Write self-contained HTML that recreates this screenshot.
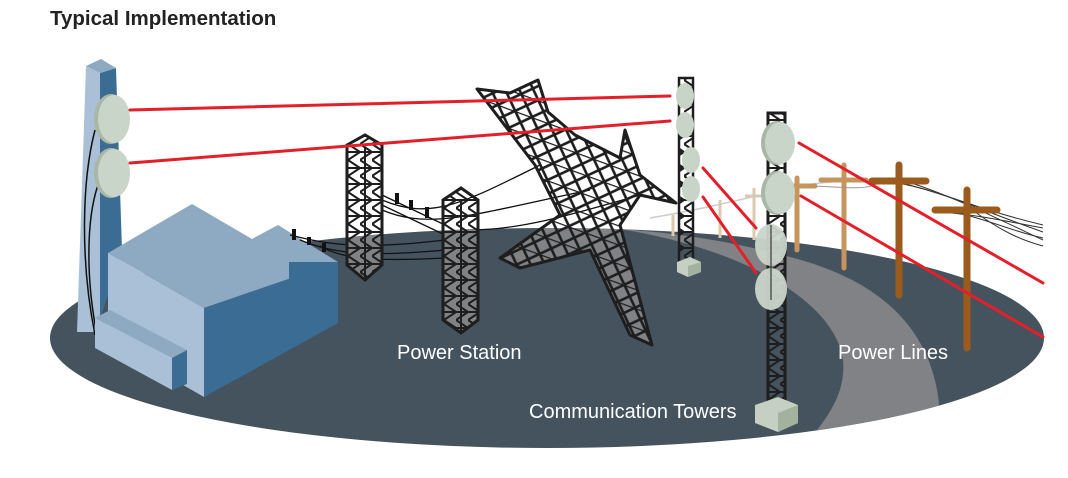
<!DOCTYPE html>
<html><head><meta charset="utf-8"><style>
html,body{margin:0;padding:0;background:#fff;}
svg{display:block;}
text{font-family:"Liberation Sans",sans-serif;}
</style></head><body>
<svg width="1068" height="478" viewBox="0 0 1068 478" xmlns="http://www.w3.org/2000/svg">
<defs>
<pattern id="lat" width="18" height="18" patternUnits="userSpaceOnUse" patternTransform="rotate(20)">
<path d="M0,0 L18,18 M18,0 L0,18 M0,0 H18" stroke="#1e1e1e" stroke-width="2.6" fill="none"/>
</pattern>
<pattern id="lat2" width="12" height="16" patternUnits="userSpaceOnUse">
<path d="M0,0 L12,8 L0,16 M0,8 H12" stroke="#1e1e1e" stroke-width="2" fill="none"/>
</pattern>
<clipPath id="ell"><ellipse cx="547" cy="338" rx="497" ry="110"/></clipPath>
</defs>

<text x="50" y="25" font-size="20.5" font-weight="bold" fill="#222">Typical Implementation</text>

<!-- ground -->
<ellipse cx="547" cy="338" rx="497" ry="110" fill="#45535e"/>
<path clip-path="url(#ell)" d="M620,229 C740,248 835,300 843,360 C846,390 830,415 812,436 L940,420 C938,330 880,280 790,257 C740,244 690,234 620,229 Z" fill="#808285"/>

<!-- far light poles & wires -->
<g stroke="#dcc9ae" stroke-width="3">
<line x1="673" y1="215" x2="673" y2="236"/><line x1="720" y1="200" x2="720" y2="238"/><line x1="754" y1="188" x2="754" y2="240"/>
<line x1="745" y1="196" x2="765" y2="196"/>
</g>
<path d="M650,218 C700,210 760,195 800,186 C830,180 860,182 880,178" stroke="#ccc" stroke-width="1.5" fill="none"/>
<g stroke="#c4955c" stroke-width="5" stroke-linecap="round">
<line x1="797" y1="178" x2="797" y2="250"/><line x1="785" y1="186" x2="815" y2="186"/>
<line x1="844" y1="165" x2="844" y2="268"/><line x1="821" y1="180" x2="866" y2="180"/>
</g>
<g stroke="#333" stroke-width="1" fill="none">
<path d="M880,181 C930,185 960,205 1043,225"/><path d="M890,181 C940,190 980,210 1043,232"/><path d="M905,181 C950,195 990,215 1043,240"/>
<path d="M940,212 C980,215 1010,222 1043,228"/><path d="M955,212 C995,222 1015,232 1043,238"/><path d="M975,212 C1000,230 1020,240 1043,246"/>
<path d="M815,186 C850,188 870,190 880,182" stroke="#999"/>
</g>
<g stroke="#9a5b1c" stroke-width="7" stroke-linecap="round">
<line x1="899" y1="165" x2="899" y2="295"/><line x1="872" y1="181" x2="926" y2="181"/>
<line x1="967" y1="190" x2="967" y2="348"/><line x1="935" y1="210" x2="997" y2="210"/>
</g>

<!-- building -->
<polygon points="86,66 100,73 100,332 77,332" fill="#a9c0d6"/>
<polygon points="100,73 116,68 122,250 100,320" fill="#3b6d94"/>
<polygon points="86,66 101,59 116,68 100,73" fill="#8ea9c2"/>
<path d="M95,130 C82,180 80,260 95,335 M98,185 C86,220 86,280 97,335" stroke="#111" stroke-width="1.5" fill="none"/>
<polygon points="108,253 192,204 252,239 278,225 338,262 204,308" fill="#8ea9c2"/>
<polygon points="289,262 338,262 289,288" fill="#3b6d94"/>
<polygon points="108,253 204,308 204,397 108,342" fill="#a9c0d6"/>
<polygon points="204,308 338,262 338,323 204,397" fill="#3b6d94"/>
<polygon points="95,318 110,310 187,350 172,358" fill="#8ea9c2"/>
<polygon points="95,318 172,358 172,390 95,348" fill="#a9c0d6"/>
<polygon points="172,358 187,350 187,384 172,390" fill="#3b6d94"/>
<ellipse cx="111" cy="119" rx="17" ry="25" fill="#a8b8a5"/><ellipse cx="114" cy="119" rx="16" ry="24" fill="#cad5c9"/>
<ellipse cx="111" cy="173" rx="17" ry="25" fill="#a8b8a5"/><ellipse cx="114" cy="173" rx="16" ry="24" fill="#cad5c9"/>

<!-- power station wires -->
<g stroke="#111" stroke-width="1.3" fill="none">
<path d="M290,235 C330,245 360,250 445,240"/><path d="M300,240 C330,252 360,258 445,250"/><path d="M320,246 C340,258 370,262 445,258"/>
<path d="M382,200 C430,220 460,205 540,165"/><path d="M382,210 C430,230 470,215 590,190"/><path d="M470,230 C520,230 570,215 640,195"/>
<path d="M382,195 L445,225 M382,205 L445,235"/>
</g>
<g stroke="#111" stroke-width="4"><line x1="294" y1="229" x2="294" y2="240"/><line x1="309" y1="237" x2="309" y2="245"/><line x1="324" y1="243" x2="324" y2="252"/>
<line x1="397" y1="193" x2="397" y2="204"/><line x1="411" y1="200" x2="411" y2="210"/><line x1="427" y1="207" x2="427" y2="218"/></g>

<!-- towers A,B -->
<g>
<polygon points="347,145 365,135 382,145 382,265 365,280 347,265" fill="#808285" clip-path="url(#ell)"/>
<polygon points="347,145 365,135 382,145 382,265 365,280 347,265" fill="url(#lat2)" stroke="#1e1e1e" stroke-width="3"/>
<line x1="365" y1="148" x2="365" y2="280" stroke="#1e1e1e" stroke-width="2"/>
<polygon points="443,200 461,188 478,200 478,320 461,333 443,320" fill="#808285" clip-path="url(#ell)"/>
<polygon points="443,200 461,188 478,200 478,320 461,333 443,320" fill="url(#lat2)" stroke="#1e1e1e" stroke-width="3"/>
<line x1="461" y1="200" x2="461" y2="333" stroke="#1e1e1e" stroke-width="2"/>
</g>

<!-- big tilted tower -->
<polygon clip-path="url(#ell)" points="477,89 510,93 538,80 548,112 575,135 620,158 625,130 640,175 676,203 640,195 620,225 652,345 630,335 590,250 520,268 500,258 560,215 535,165" fill="#808285"/>
<polygon points="477,89 510,93 538,80 548,112 575,135 620,158 625,130 640,175 676,203 640,195 620,225 652,345 630,335 590,250 520,268 500,258 560,215 535,165" fill="url(#lat)" stroke="#1e1e1e" stroke-width="3" stroke-linejoin="round"/>

<!-- red links -->
<g stroke="#e3202a" stroke-width="3" stroke-linecap="round">
<line x1="130" y1="110" x2="670" y2="96"/><line x1="130" y1="163" x2="670" y2="121"/>
<line x1="703" y1="168" x2="756" y2="228"/><line x1="703" y1="197" x2="756" y2="273"/>
<line x1="799" y1="143" x2="1043" y2="283"/><line x1="801" y1="196" x2="1043" y2="337"/>
</g>

<!-- comm tower 1 -->
<rect x="679" y="78" width="14" height="186" fill="url(#lat2)" stroke="#1e1e1e" stroke-width="2.5"/>
<polygon points="677,262 690,257 701,262 701,272 688,277 677,272" fill="#c5d0c3"/>
<polygon points="688,266 701,262 701,272 688,277" fill="#a3b19f"/>
<ellipse cx="685" cy="96" rx="9" ry="13" fill="#c9d4c8"/><ellipse cx="685" cy="125" rx="9" ry="13" fill="#c9d4c8"/>
<ellipse cx="691" cy="160" rx="9" ry="13" fill="#c9d4c8"/><ellipse cx="691" cy="189" rx="9" ry="13" fill="#c9d4c8"/>

<!-- comm tower 2 -->
<rect x="768" y="113" width="17" height="290" fill="url(#lat2)" stroke="#1e1e1e" stroke-width="3"/>
<polygon points="755,405 778,397 798,405 798,423 778,432 755,423" fill="#c5d0c3"/>
<polygon points="778,413 798,405 798,423 778,432" fill="#a3b19f"/>
<ellipse cx="777" cy="143" rx="16" ry="22" fill="#a8b8a5"/><ellipse cx="780" cy="143" rx="15" ry="21" fill="#cad5c9"/>
<ellipse cx="777" cy="193" rx="16" ry="22" fill="#a8b8a5"/><ellipse cx="780" cy="193" rx="15" ry="21" fill="#cad5c9"/>
<ellipse cx="771" cy="245" rx="16" ry="21" fill="#cad5c9" opacity="0.95"/>
<ellipse cx="771" cy="289" rx="16" ry="21" fill="#cad5c9" opacity="0.95"/>
<path d="M771,225 L771,300" stroke="#1e1e1e" stroke-width="2" opacity="0.5"/>

<text x="397" y="359" font-size="20" fill="#fff">Power Station</text>
<text x="838" y="359" font-size="20" fill="#fff">Power Lines</text>
<text x="529" y="418" font-size="20" fill="#fff">Communication Towers</text>
</svg>
</body></html>
